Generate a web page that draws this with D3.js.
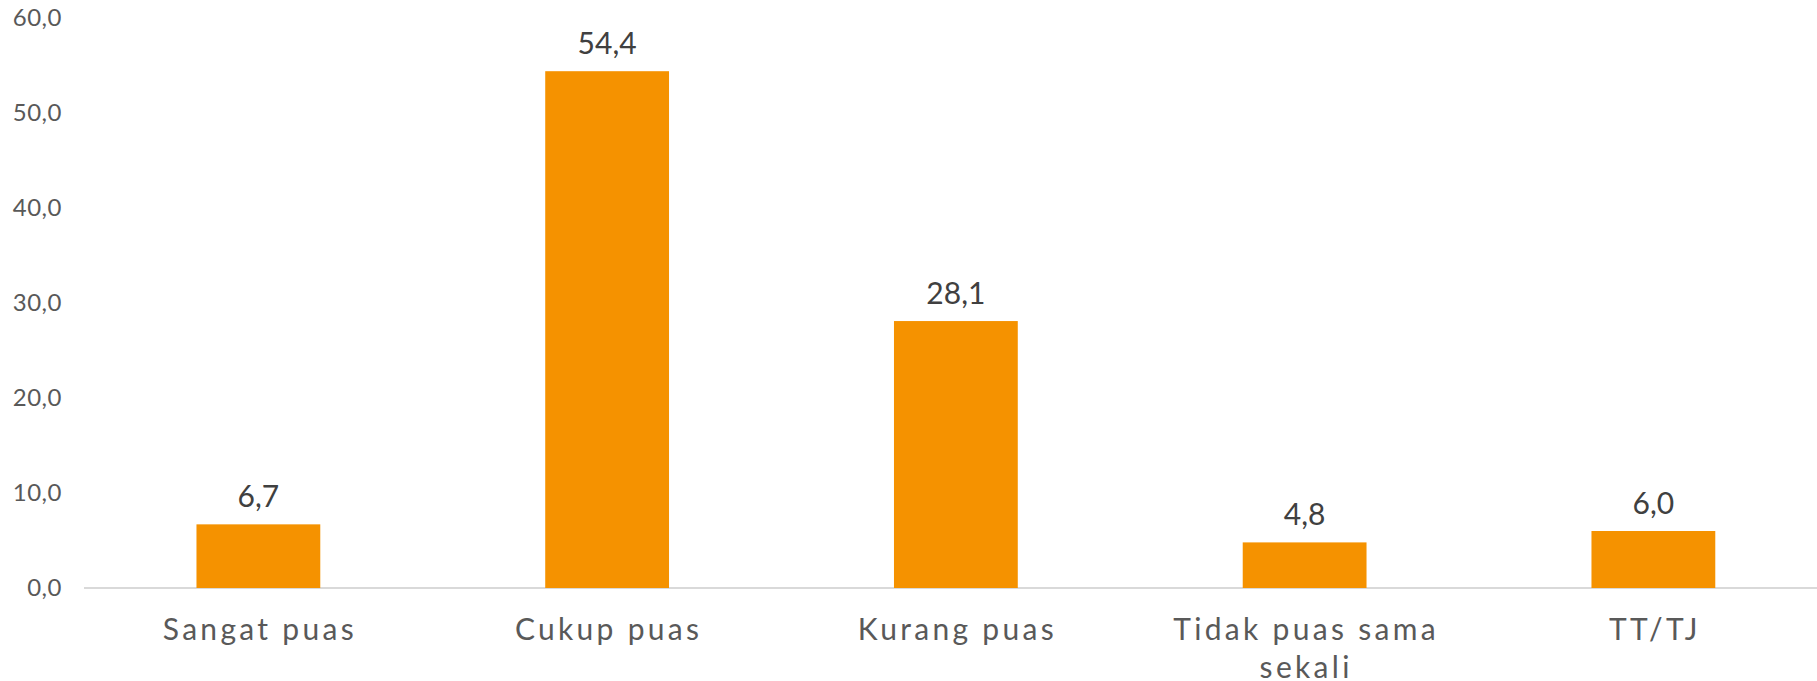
<!DOCTYPE html>
<html>
<head>
<meta charset="utf-8">
<script src="https://cdn.jsdelivr.net/npm/d3@7"></script>
<style>
  body { margin: 0; background: #fff; }
  svg { display: block; font-family: Lato, 'Noto Sans', sans-serif; }
</style>
</head>
<body>
<svg width="1817" height="681"></svg>
<script>
'use strict'

const categories = ['Sangat puas', 'Cukup puas', 'Kurang puas', 'Tidak puas sama sekali', 'TT/TJ']
const values = [6.7, 54.4, 28.1, 4.8, 6.0]
const yTicks = [0, 10, 20, 30, 40, 50, 60]

const svg = d3.select('body svg')
const locale = d3.formatLocale({ decimal: ',', thousands: '.', grouping: [3], currency: ['', ''] })
const fmt = locale.format('.1f')

const yBase = 588
const yTop = 18
const xLeft = 84
const step = 348.75

const xScale = d3.scaleBand()
  .domain(categories)
  .range([xLeft, xLeft + step * categories.length])
  .paddingInner(0.645)
  .paddingOuter(0.3225)

const yScale = d3.scaleLinear().domain([0, 60]).range([yBase, yTop])

// y axis labels only
const yAxis = d3.axisLeft(yScale)
  .tickValues(yTicks)
  .tickFormat((d) => fmt(d))
  .tickSize(0)
  .tickPadding(0)
const yG = svg.append('g').attr('transform', 'translate(62, 0)').call(yAxis)
yG.select('path.domain').remove()
yG.selectAll('text')
  .style('font-family', 'Lato, sans-serif')
  .style('font-size', '24px')
  .style('letter-spacing', '0.5px')
  .attr('fill', '#595959')

// baseline
svg.append('line')
  .attr('x1', xLeft).attr('x2', 1817)
  .attr('y1', yBase).attr('y2', yBase)
  .attr('stroke', '#d9d9d9')
  .attr('stroke-width', 2)

// bars
svg.selectAll('rect.bar')
  .data(values)
  .enter()
  .append('rect').classed('bar', true)
  .attr('x', (d, i) => xScale(categories[i]))
  .attr('width', xScale.bandwidth())
  .attr('y', (d) => yScale(d))
  .attr('height', (d) => yBase - yScale(d))
  .attr('fill', '#f59200')

// value labels
svg.selectAll('text.value')
  .data(values)
  .enter()
  .append('text').classed('value', true)
  .attr('x', (d, i) => xScale(categories[i]) + xScale.bandwidth() / 2)
  .attr('y', (d) => yScale(d) - 17)
  .attr('text-anchor', 'middle')
  .attr('fill', '#404040')
  .style('font-size', '30px')
  .text((d) => fmt(d))

// category labels, wrapped
const wrapWidth = step * 0.82
svg.selectAll('text.cat')
  .data(categories)
  .enter()
  .append('text').classed('cat', true)
  .attr('x', (d) => xScale(d) + xScale.bandwidth() / 2 + 1.5)
  .attr('y', yBase + 52)
  .attr('text-anchor', 'middle')
  .attr('fill', '#595959')
  .style('font-size', '30px')
  .style('letter-spacing', '3.3px')
  .each(function(d) {
    const text = d3.select(this)
    const cx = text.attr('x')
    const words = d.split(' ')
    let line = []
    let tspan = text.append('tspan').attr('x', cx).attr('dy', 0)
    words.forEach((w) => {
      line.push(w)
      tspan.text(line.join(' '))
      if (tspan.node().getComputedTextLength() > wrapWidth && line.length > 1) {
        line.pop()
        tspan.text(line.join(' '))
        line = [w]
        tspan = text.append('tspan').attr('x', cx).attr('dy', 38).text(w)
      }
    })
  })
</script>
</body>
</html>
